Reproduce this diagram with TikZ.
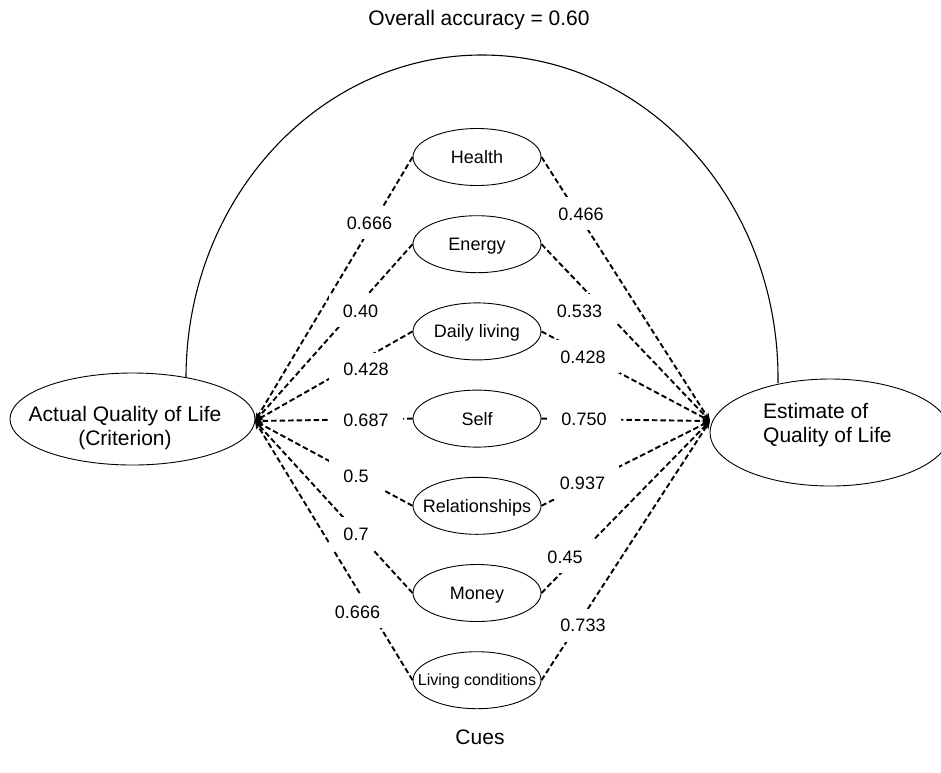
\documentclass[tikz,border=0pt]{standalone}
\usepackage{fontspec}
\setmainfont{Liberation Sans}
\usetikzlibrary{shapes.geometric,arrows.meta}
\begin{document}
\begin{tikzpicture}[x=1pt,y=-1pt,
  cue/.style={ellipse,draw,line width=0.9pt,minimum width=128pt,minimum height=57pt,
    inner sep=0pt,text height=12.9pt,text depth=0pt,font=\fontsize{18}{21}\selectfont},
  big/.style={ellipse,draw,line width=0.9pt,inner sep=0pt},
  bigtext/.style={inner sep=0pt,font=\fontsize{21}{23.5}\selectfont},
  link/.style={draw,line width=1.9pt,dash pattern=on 5.5pt off 3pt,
    -{Stealth[length=8pt,width=6.5pt]}},
  lab/.style={fill=white,inner xsep=14pt,inner ysep=10pt,text height=13pt,text depth=0pt,
    font=\fontsize{18}{21}\selectfont}
]
\useasboundingbox (0,0) rectangle (941,772);
\clip (0,0) rectangle (941,772);

% title and footer
\node[font=\fontsize{21}{24}\selectfont] (title) at (479,20) {Overall accuracy = 0.60};
\node[font=\fontsize{21}{24}\selectfont] (cues) at (480,737) {Cues};

% big ellipses
\node[big,minimum width=245pt,minimum height=92pt] (aq) at (132.5,419) {};
\node[bigtext,align=center] (aqt) at (125,428) {Actual Quality of Life\\(Criterion)};
\node[big,minimum width=240pt,minimum height=107pt] (est) at (830,432.5) {};
\node[bigtext,align=left,anchor=west] (estt) at (763,425) {Estimate of\\Quality of Life};

% cue ellipses
\node[cue] (h) at (477,157) {\makebox[0pt]{Health}};
\node[cue] (e) at (477,244.2) {\makebox[0pt]{Energy}};
\node[cue] (d) at (477,331.4) {\makebox[0pt]{Daily living}};
\node[cue] (s) at (477,418.6) {\makebox[0pt]{Self}};
\node[cue] (r) at (477,505.8) {\makebox[0pt]{Relationships}};
\node[cue] (m) at (477,593) {\makebox[0pt]{Money}};
\node[cue,text height=11.5pt,font=\fontsize{16}{19}\selectfont] (l) at (477,680.2) {\makebox[0pt]{Living conditions}};

% overall accuracy arc
\coordinate (arcL) at (186,378);
\coordinate (arcR) at (778,383);
\draw[line width=1.1pt] (arcL) arc[start angle=180,end angle=0,x radius=296pt,y radius=323pt] -- (arcR);

% convergence points
\coordinate (L) at (255,421);
\coordinate (R) at (710,421);

\foreach \n in {h,e,d,s,r,m,l}{
  \draw[link] (\n.west) -- (L);
  \draw[link] (\n.east) -- (R);
}

% left labels
\node[lab] (lh) at (369.5,222.5) {0.666};
\node[lab] (le) at (360.5,310.5) {0.40};
\node[lab] (ld) at (366,369) {0.428};
\node[lab] (ls) at (366,419.5) {0.687};
\node[lab] (lr) at (356,475.5) {0.5};
\node[lab] (lm) at (356,533.5) {0.7};
\node[lab] (ll) at (357.5,611.5) {0.666};
% right labels
\node[lab] (rh) at (581,213.5) {0.466};
\node[lab] (re) at (579.5,310.5) {0.533};
\node[lab] (rd) at (583,356.5) {0.428};
\node[lab] (rs) at (584,419) {0.750};
\node[lab] (rr) at (582.5,482.5) {0.937};
\node[lab] (rm) at (565,556.5) {0.45};
\node[lab] (rl) at (583,625) {0.733};
\end{tikzpicture}
\end{document}
